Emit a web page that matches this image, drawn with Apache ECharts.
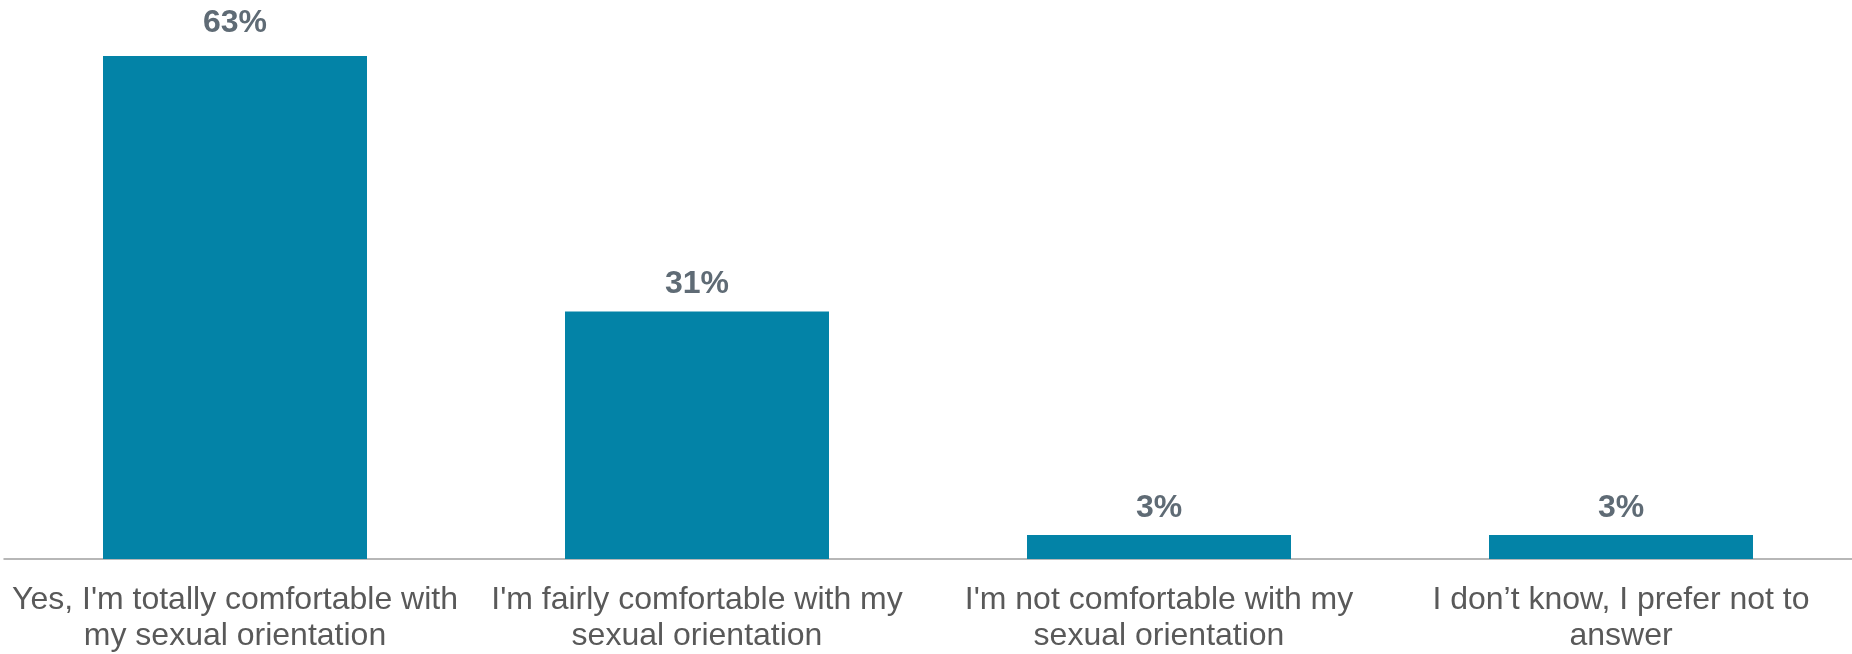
<!DOCTYPE html>
<html>
<head>
<meta charset="utf-8">
<script src="https://cdn.jsdelivr.net/npm/echarts@6/dist/echarts.min.js"></script>
<style>html,body{margin:0;padding:0;background:#fff;}#chart{width:1852px;height:654px;}</style>
</head>
<body>
<div id="chart"></div>
<script>
const categories = [
  "Yes, I'm totally comfortable with\nmy sexual orientation",
  "I'm fairly comfortable with my\nsexual orientation",
  "I'm not comfortable with my\nsexual orientation",
  "I don\u2019t know, I prefer not to\nanswer"
];
const values = [63, 31, 3, 3];
const labelGaps = [17, 11, 11, 11];

const chart = echarts.init(document.getElementById('chart'));
chart.setOption({
  animation: false,
  grid: { left: 4, right: 0, top: 0, bottom: 92, containLabel: false },
  xAxis: {
    type: 'category',
    data: categories,
    axisTick: { show: false },
    axisLine: { lineStyle: { color: '#a0a0a0', width: 1.5 } },
    axisLabel: {
      interval: 0,
      margin: 23,
      fontFamily: 'Liberation Sans, Arial, sans-serif',
      fontSize: 32,
      lineHeight: 36,
      color: '#595959'
    }
  },
  yAxis: {
    type: 'value',
    min: 0,
    max: 70,
    show: false,
    splitLine: { show: false }
  },
  series: [{
    type: 'bar',
    data: values.map((v, i) => ({ value: v, label: { distance: labelGaps[i] } })),
    barWidth: 264,
    itemStyle: { color: '#0383a7' },
    label: {
      show: true,
      position: 'top',
      formatter: '{c}%',
      fontFamily: 'Liberation Sans, Arial, sans-serif',
      fontWeight: 'bold',
      fontSize: 32,
      color: '#5f6b75'
    }
  }]
});
</script>
</body>
</html>
